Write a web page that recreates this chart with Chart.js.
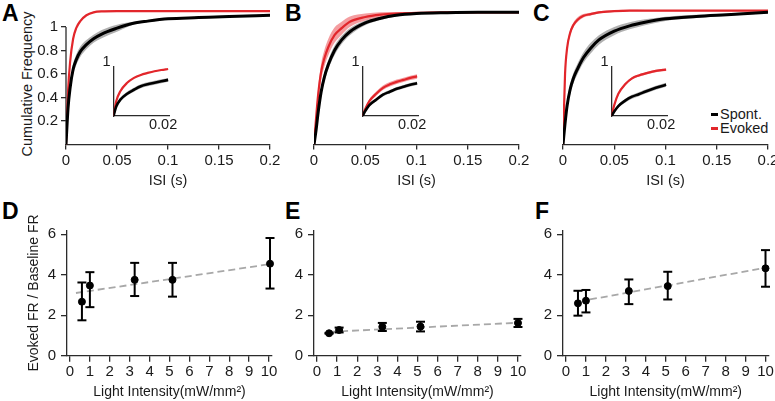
<!DOCTYPE html>
<html>
<head>
<meta charset="utf-8">
<script src="https://cdn.jsdelivr.net/npm/chart.js@4.4.0/dist/chart.umd.min.js"></script>
<style>
  body { margin: 0; width: 775px; height: 401px; position: relative; overflow: hidden; background: #fff;
         font-family: "Liberation Sans", Arial, Helvetica, sans-serif; color: #1a1a1a; }
  canvas { position: absolute; }
  .panel { position: absolute; font-weight: bold; font-size: 23px; line-height: 23px; color: #000; }
  .ytitle { position: absolute; font-size: 14.5px; line-height: 14px; white-space: nowrap;
            transform: translate(-50%, -50%) rotate(-90deg); }
  .key { position: absolute; font-size: 14.5px; line-height: 16px; white-space: nowrap; }
  .key span { display: inline-block; width: 7px; height: 3px; margin-right: 2px; vertical-align: middle; position: relative; top: -1px; }
</style>
</head>
<body>
<div class="panel" style="left:2px;top:2px">A</div>
<div class="panel" style="left:285px;top:2px">B</div>
<div class="panel" style="left:533px;top:2px">C</div>
<div class="panel" style="left:2px;top:200px">D</div>
<div class="panel" style="left:285px;top:200px">E</div>
<div class="panel" style="left:535px;top:200px">F</div>
<div class="ytitle" style="left:27px;top:84px">Cumulative Frequency</div>
<div class="key" style="left:711px;top:106px"><span style="background:#000"></span>Spont.</div>
<div class="key" style="left:711px;top:120px"><span style="background:#e2262b"></span>Evoked</div>

<script>
// ISI cumulative curves (top row)
const isiX = [0, 0.002, 0.004, 0.007, 0.01, 0.014, 0.02, 0.027, 0.035, 0.05, 0.065, 0.08, 0.1, 0.13, 0.16, 0.2];
const isiTicks = [0, 0.05, 0.1, 0.15, 0.2];
const freqTicks = [0.2, 0.4, 0.6, 0.8, 1];

const spontA = [0, 0.31, 0.48, 0.64, 0.72, 0.79, 0.85, 0.90, 0.94, 0.99, 1.03, 1.05, 1.07, 1.08, 1.09, 1.10];
const spontSpreadA = [0, 0.035, 0.045, 0.045, 0.045, 0.045, 0.04, 0.035, 0.035, 0.03, 0.012, 0.01, 0.008, 0.008, 0.008, 0.008];
const evokedA = [0, 0.45, 0.70, 0.90, 0.99, 1.05, 1.10, 1.125, 1.133, 1.135, 1.135, 1.135, 1.135, 1.135, 1.135, 1.135];
const evokedSpreadA = [0, 0.008, 0.008, 0.008, 0.008, 0.006, 0.005, 0.005, 0.005, 0.005, 0.005, 0.005, 0.005, 0.005, 0.005, 0.005];

const spontB = [0, 0.12, 0.27, 0.45, 0.57, 0.68, 0.80, 0.89, 0.96, 1.035, 1.075, 1.10, 1.115, 1.122, 1.125, 1.125];
const spontSpreadB = [0, 0.025, 0.035, 0.04, 0.04, 0.04, 0.04, 0.035, 0.03, 0.02, 0.015, 0.01, 0.008, 0.006, 0.005, 0.005];
const evokedB = [0, 0.22, 0.42, 0.62, 0.73, 0.83, 0.93, 0.99, 1.045, 1.085, 1.105, 1.115, 1.12, 1.125, 1.125, 1.125];
const evokedSpreadB = [0, 0.04, 0.06, 0.07, 0.07, 0.07, 0.065, 0.055, 0.045, 0.03, 0.02, 0.012, 0.008, 0.005, 0.005, 0.005];

const spontC = [0, 0.18, 0.33, 0.47, 0.56, 0.64, 0.74, 0.82, 0.89, 0.965, 1.01, 1.04, 1.07, 1.09, 1.105, 1.125];
const spontSpreadC = [0, 0.025, 0.04, 0.045, 0.045, 0.045, 0.045, 0.045, 0.04, 0.035, 0.03, 0.025, 0.018, 0.014, 0.01, 0.008];
const evokedC = [0, 0.60, 0.82, 0.95, 1.015, 1.06, 1.095, 1.11, 1.125, 1.135, 1.14, 1.14, 1.14, 1.14, 1.14, 1.14];
const evokedSpreadC = [0, 0.03, 0.03, 0.025, 0.02, 0.02, 0.015, 0.012, 0.01, 0.008, 0.006, 0.005, 0.005, 0.005, 0.005, 0.005];

// insets (first 20 ms)
const insetX = [0, 0.001, 0.0025, 0.005, 0.0075, 0.01, 0.0125, 0.015, 0.0175, 0.02];
const insetSpontA = [0, 0.19, 0.33, 0.45, 0.53, 0.60, 0.64, 0.67, 0.70, 0.73];
const insetSpontSpreadA = [0, 0.02, 0.035, 0.04, 0.04, 0.04, 0.04, 0.04, 0.04, 0.04];
const insetEvokedA = [0, 0.30, 0.50, 0.67, 0.77, 0.83, 0.87, 0.905, 0.93, 0.95];
const insetEvokedSpreadA = [0, 0.008, 0.01, 0.01, 0.01, 0.01, 0.01, 0.01, 0.01, 0.01];
const insetSpontB = [0, 0.10, 0.22, 0.33, 0.43, 0.49, 0.55, 0.59, 0.63, 0.66];
const insetSpontSpreadB = [0, 0.015, 0.03, 0.035, 0.035, 0.035, 0.035, 0.035, 0.035, 0.035];
const insetEvokedB = [0, 0.14, 0.30, 0.45, 0.57, 0.64, 0.69, 0.73, 0.77, 0.80];
const insetEvokedSpreadB = [0, 0.02, 0.035, 0.045, 0.045, 0.045, 0.045, 0.045, 0.045, 0.045];
const insetSpontC = [0, 0.09, 0.20, 0.31, 0.39, 0.44, 0.495, 0.545, 0.59, 0.63];
const insetSpontSpreadC = [0, 0.015, 0.03, 0.04, 0.04, 0.04, 0.04, 0.04, 0.04, 0.04];
const insetEvokedC = [0, 0.22, 0.45, 0.64, 0.76, 0.82, 0.86, 0.895, 0.92, 0.935];
const insetEvokedSpreadC = [0, 0.015, 0.025, 0.025, 0.025, 0.025, 0.025, 0.025, 0.025, 0.025];

// evoked / baseline FR vs light intensity (bottom row)
const lightTicks = [0, 1, 2, 3, 4, 5, 6, 7, 8, 9, 10];
const ratioTicks = [0, 2, 4, 6];
const lightD = [0.6, 1.0, 3.25, 5.15, 10.05];
const ratioD = [2.67, 3.47, 3.75, 3.75, 4.55];
const lowD = [1.75, 2.4, 2.95, 2.92, 3.32];
const highD = [3.62, 4.13, 4.59, 4.59, 5.82];
const fitXD = [0.3, 10];
const fitYD = [3.1, 4.52];

const lightE = [0.6, 1.1, 3.25, 5.15, 10.0];
const ratioE = [1.11, 1.27, 1.43, 1.44, 1.62];
const lowE = [1.09, 1.15, 1.22, 1.20, 1.42];
const highE = [1.13, 1.39, 1.62, 1.68, 1.82];
const fitXE = [0.65, 10];
const fitYE = [1.18, 1.63];

const lightF = [0.6, 1.0, 3.15, 5.1, 10.0];
const ratioF = [2.59, 2.72, 3.2, 3.44, 4.32];
const lowF = [1.98, 2.14, 2.55, 2.78, 3.41];
const highF = [3.21, 3.25, 3.77, 4.15, 5.22];
const fitXF = [1.2, 10];
const fitYF = [2.78, 4.35];

Chart.defaults.font.family = "'Liberation Sans', Arial, Helvetica, sans-serif";
Chart.defaults.color = '#1a1a1a';
Chart.defaults.animation = false;

const AXIS = '#2b2b2b';
const RED = '#e2262b';
const PINK = 'rgba(236, 92, 96, 0.6)';
const GRAY = 'rgba(150, 150, 150, 0.75)';
const NONE = 'rgba(0,0,0,0)';

function makeCanvas(left, top, w, h) {
    const c = document.createElement('canvas');
    c.width = w;
    c.height = h;
    c.style.left = left + 'px';
    c.style.top = top + 'px';
    document.body.appendChild(c);
    return c;
}

// force the axis box size so the plot area lands where it should
function fixSize(prop, size) {
    return s => {
        s[prop] = size;
        s.paddingLeft = s.paddingRight = s.paddingTop = s.paddingBottom = 0;
    };
}

function setTicks(values) {
    return s => { s.ticks = values.map(v => ({ value: v })); };
}

function pts(xs, ys) {
    return xs.map((x, i) => ({ x: x, y: ys[i] }));
}

function bandSets(xs, mean, spread, color, order) {
    return [
        { data: pts(xs, mean.map((v, i) => v + spread[i])), backgroundColor: color, borderColor: NONE,
          borderWidth: 0, pointRadius: 0, fill: '+1', order: order, cubicInterpolationMode: 'monotone' },
        { data: pts(xs, mean.map((v, i) => v - spread[i])), borderColor: NONE,
          borderWidth: 0, pointRadius: 0, fill: false, order: order, cubicInterpolationMode: 'monotone' }
    ];
}

function curve(xs, ys, color, width, order) {
    return { data: pts(xs, ys), borderColor: color, borderWidth: width, pointRadius: 0, fill: false,
             order: order, cubicInterpolationMode: 'monotone' };
}

// y axis line of panel A only runs from 0 to 1
const yStub = {
    id: 'yStub',
    beforeDatasetsDraw(chart) {
        const y = chart.scales.y, ctx = chart.ctx, left = chart.chartArea.left;
        ctx.save();
        ctx.strokeStyle = AXIS;
        ctx.lineWidth = 1.3;
        ctx.beginPath();
        ctx.moveTo(left, y.getPixelForValue(0));
        ctx.lineTo(left, y.getPixelForValue(1));
        ctx.stroke();
        ctx.restore();
    }
};

function cdfChart(left, width, padLeft, padRight, showY, sets) {
    const canvas = makeCanvas(left, 0, width, 200);
    const y = {
        min: 0, max: 1.2, display: showY,
        afterBuildTicks: setTicks(freqTicks),
        border: { display: false },
        grid: { drawOnChartArea: false, tickLength: 5, color: AXIS, lineWidth: 1.3 },
        ticks: { font: { size: 15 }, padding: 3, callback: v => String(v) }
    };
    if (showY) y.afterFit = fixSize('width', 66);
    new Chart(canvas, {
        type: 'line',
        data: { datasets: sets },
        options: {
            responsive: false,
            layout: { padding: { left: padLeft, right: padRight, top: 3.5, bottom: 0 } },
            plugins: { legend: { display: false }, tooltip: { enabled: false } },
            scales: {
                x: {
                    type: 'linear', min: 0, max: 0.2,
                    afterBuildTicks: setTicks(isiTicks),
                    afterFit: fixSize('height', 55.5),
                    border: { display: true, color: AXIS, width: 1.3 },
                    grid: { drawOnChartArea: false, tickLength: 5, color: AXIS, lineWidth: 1.3 },
                    ticks: { font: { size: 15 }, padding: 2, maxRotation: 0, autoSkip: false, callback: v => String(v) },
                    title: { display: true, text: 'ISI (s)', font: { size: 14.5 }, padding: { top: 0, bottom: 10.3 } }
                },
                y: y
            }
        },
        plugins: showY ? [yStub] : []
    });
}

function topSets(spont, spontSpread, evoked, evokedSpread) {
    return [
        ...bandSets(isiX, spont, spontSpread, GRAY, 3),
        ...bandSets(isiX, evoked, evokedSpread, PINK, 2),
        curve(isiX, evoked, RED, 2.2, 1),
        curve(isiX, spont, '#000', 3, 0)
    ];
}

function insetChart(left, spont, spontSpread, evoked, evokedSpread) {
    const canvas = makeCanvas(left, 55, 90, 80);
    new Chart(canvas, {
        type: 'line',
        data: {
            datasets: [
                ...bandSets(insetX, spont, spontSpread, GRAY, 3),
                ...bandSets(insetX, evoked, evokedSpread, PINK, 2),
                curve(insetX, evoked, RED, 2.2, 1),
                curve(insetX, spont, '#000', 2.6, 0)
            ]
        },
        options: {
            responsive: false,
            layout: { padding: { left: 0, right: 16.5, top: 11.5, bottom: 0 } },
            plugins: { legend: { display: false }, tooltip: { enabled: false } },
            scales: {
                x: {
                    type: 'linear', min: 0, max: 0.0205,
                    afterBuildTicks: setTicks([0.02]),
                    afterFit: fixSize('height', 19),
                    border: { display: true, color: AXIS, width: 1.3 },
                    grid: { display: false, drawTicks: false },
                    ticks: { font: { size: 14.5 }, padding: 0, labelOffset: -5, maxRotation: 0, callback: v => String(v) }
                },
                y: {
                    min: 0, max: 1,
                    afterBuildTicks: setTicks([1]),
                    afterFit: fixSize('width', 17.5),
                    border: { display: true, color: AXIS, width: 1.3 },
                    grid: { display: false, drawTicks: false },
                    ticks: { font: { size: 14.5 }, padding: 3, labelOffset: -4.5, callback: v => String(v) }
                }
            }
        }
    });
}

function ratioChart(left, width, yWidth, padRight, xs, mean, lo, hi, fitX, fitY, yTitle) {
    const canvas = makeCanvas(left, 200, width, 201);
    const whisk = [];
    xs.forEach((x, i) => { whisk.push({ x: x, y: lo[i] }, { x: x, y: hi[i] }, { x: x, y: null }); });
    new Chart(canvas, {
        type: 'line',
        data: {
            datasets: [
                { data: pts(xs, mean), showLine: false, pointRadius: 3.5, pointBackgroundColor: '#000',
                  pointBorderColor: '#000', pointBorderWidth: 1, order: 0, clip: false },
                { data: whisk, borderColor: '#000', borderWidth: 2, pointRadius: 0, spanGaps: false,
                  fill: false, order: 1, clip: false },
                { data: pts(xs, lo).concat(pts(xs, hi)), showLine: false, pointStyle: 'line', pointRadius: 4.5,
                  pointBorderColor: '#000', pointBorderWidth: 2, order: 1, clip: false },
                { data: pts(fitX, fitY), borderColor: '#a8a8a8', borderWidth: 1.8, borderDash: [7, 4],
                  pointRadius: 0, fill: false, order: 2 }
            ]
        },
        options: {
            responsive: false,
            layout: { padding: { left: 0, right: padRight, top: 30.3, bottom: 0 } },
            plugins: { legend: { display: false }, tooltip: { enabled: false } },
            scales: {
                x: {
                    type: 'linear', min: -0.15, max: 10.15,
                    afterBuildTicks: setTicks(lightTicks),
                    afterFit: fixSize('height', 45.3),
                    border: { display: true, color: AXIS, width: 1.3 },
                    grid: { drawOnChartArea: false, tickLength: 6, color: AXIS, lineWidth: 1.3 },
                    ticks: { font: { size: 15 }, padding: 1, maxRotation: 0, autoSkip: false },
                    title: { display: true, text: 'Light Intensity(mW/mm²)', font: { size: 14 }, padding: { top: 0, bottom: 0 } }
                },
                y: {
                    min: 0, max: 6.2,
                    afterBuildTicks: setTicks(ratioTicks),
                    afterFit: fixSize('width', yWidth),
                    border: { display: true, color: AXIS, width: 1.3 },
                    grid: { drawOnChartArea: false, tickLength: 6, color: AXIS, lineWidth: 1.3 },
                    ticks: { font: { size: 15 }, padding: 5 },
                    title: { display: !!yTitle, text: yTitle || '', font: { size: 14 }, padding: { top: 25.6, bottom: 0 } }
                }
            }
        }
    });
}

cdfChart(0, 290, 0, 20, true, topSets(spontA, spontSpreadA, evokedA, evokedSpreadA));
cdfChart(290, 245, 24, 16, false, topSets(spontB, spontSpreadB, evokedB, evokedSpreadB));
cdfChart(540, 235, 23, 7, false, topSets(spontC, spontSpreadC, evokedC, evokedSpreadC));

insetChart(96, insetSpontA, insetSpontSpreadA, insetEvokedA, insetEvokedSpreadA);
insetChart(345, insetSpontB, insetSpontSpreadB, insetEvokedB, insetEvokedSpreadB);
insetChart(594, insetSpontC, insetSpontSpreadC, insetEvokedC, insetEvokedSpreadC);

ratioChart(0, 290, 67, 18, lightD, ratioD, lowD, highD, fitXD, fitYD, 'Evoked FR / Baseline FR');
ratioChart(290, 245, 24, 14, lightE, ratioE, lowE, highE, fitXE, fitYE, null);
ratioChart(535, 240, 28, 5, lightF, ratioF, lowF, highF, fitXF, fitYF, null);
</script>
</body>
</html>
